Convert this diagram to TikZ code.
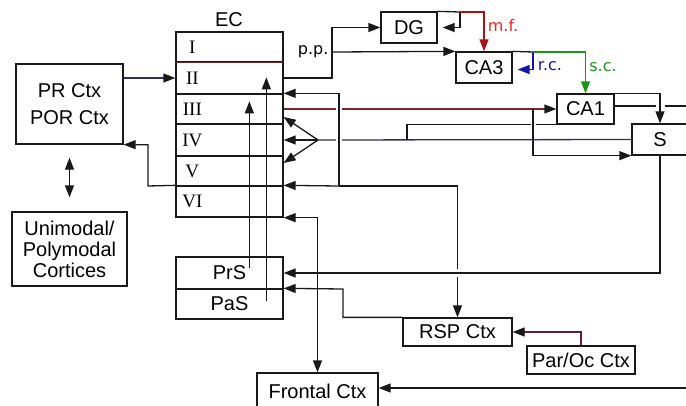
\documentclass[tikz,border=0pt]{standalone}
\usepackage{fontspec}
\setmainfont{Liberation Sans}
\newfontfamily\romfont{Liberation Serif}
\newfontfamily\dvfont{DejaVu Sans}
\usetikzlibrary{arrows.meta,calc}
\definecolor{ink}{RGB}{25,25,25}
\definecolor{navy}{RGB}{45,45,95}
\definecolor{brick}{RGB}{115,40,40}
\definecolor{plum}{RGB}{100,30,60}
\definecolor{mfred}{RGB}{165,20,20}
\definecolor{mftext}{RGB}{230,35,35}
\definecolor{rcblue}{RGB}{20,20,170}
\definecolor{scgreen}{RGB}{25,150,25}
\tikzset{
  box/.style={draw=ink, inner sep=0pt, font=\fontsize{20}{22}\selectfont, align=center},
  lay/.style={draw=ink, minimum width=107pt, inner sep=0pt},
  rom/.style={anchor=center, xshift=17pt, inner sep=0pt, font=\romfont\fontsize{19}{19}\selectfont},
  tipk/.tip={Triangle[length=12pt,width=9pt]},
  arr/.style={draw=ink, -{tipk[color=ink]}},
  darr/.style={draw=ink, {tipk[color=ink]}-{tipk[color=ink]}},
  plain/.style={draw=ink},
  halo/.style={draw=white},
  small/.style={font=\dvfont\fontsize{16}{16}\selectfont, inner sep=1pt},
}
\begin{document}
\begin{tikzpicture}[x=1pt,y=-1pt,line width=1.3pt]
\useasboundingbox (0,0) rectangle (686,405);
\clip (0,0) rectangle (686,405);

% boxes
\node[box, minimum width=107pt, minimum height=80pt] (PR) at (69.5,104) {PR Ctx\\[5pt]POR Ctx};
\node[box, minimum width=115pt, minimum height=74pt, font=\fontsize{20}{21}\selectfont] (Uni) at (69.5,249) {Unimodal/\\Polymodal\\Cortices};

\node[lay, minimum height=30pt, label={[rom]west:I}] (L1) at (229.5,47) {};
\node[lay, minimum height=32pt, label={[rom]west:II}] (L2) at (229.5,78) {};
\node[lay, minimum height=30pt, label={[rom]west:III}] (L3) at (229.5,109) {};
\node[lay, minimum height=32pt, label={[rom]west:IV}] (L4) at (229.5,140) {};
\node[lay, minimum height=30pt, label={[rom]west:V}] (L5) at (229.5,171) {};
\node[lay, minimum height=31pt, label={[rom]west:VI}] (L6) at (229.5,201.5) {};
\draw[brick] (L1.south west) -- (L1.south east);
\node[font=\fontsize{20}{22}\selectfont, inner sep=0pt] (ECt) at (229,19.5) {EC};

\node[box, minimum width=107pt, minimum height=32pt] (PrS) at (229.5,273) {PrS};
\node[box, minimum width=107pt, minimum height=30pt] (PaS) at (229.5,304) {PaS};

\node[box, minimum width=56pt, minimum height=31pt] (DG) at (409,27.5) {DG};
\node[box, minimum width=56pt, minimum height=31pt] (CA3) at (484,67.5) {CA3};
\node[box, minimum width=57pt, minimum height=30pt] (CA1) at (585.5,109) {CA1};
\node[box, minimum width=56pt, minimum height=31pt] (S) at (660,139.5) {S};
\node[box, minimum width=109pt, minimum height=28pt] (RSP) at (457.5,332) {RSP Ctx};
\node[box, minimum width=108pt, minimum height=28pt] (ParOc) at (581,360) {Par/Oc Ctx};
\node[box, minimum width=121pt, minimum height=37pt] (Frontal) at (317.5,391.5) {Frontal Ctx};

% coordinates
\coordinate (pp) at (332,52);
\coordinate (dgo) at (460,12);
\coordinate (rc) at (533,52);
\coordinate (b1) at (533,109);
\coordinate (fan) at (318,140);
\coordinate (b2) at (407,140);
\coordinate (j0) at (148,186);
\coordinate (j1) at (339,186);
\coordinate (j2) at (457.5,186);
\coordinate (k) at (343,289);
\coordinate (ro) at (690,106);
\coordinate (rf) at (690,388);

% PR <-> EC, Unimodal
\draw[arr, draw=navy] (PR.east |- L2.west) -- (L2.west);
\draw[darr] ([yshift=-13pt]PR.south) -- ([yshift=14pt]Uni.north);

% perforant path
\draw[arr] (L2.east) -- (L2.east -| pp) -- (pp |- DG.west) -- (DG.west);
\draw[arr] (pp) -- (CA3.north west);
\node[small, anchor=east, inner sep=3pt] (pplbl) at (pp) {p.p.};

% DG
\draw[plain] (DG.north east) -- (dgo);
\draw[arr] (dgo) |- ([xshift=5pt]DG.east);
\draw[draw=mfred, -{tipk[color=mfred]}] (dgo) -| (CA3.north);
\node[small, text=mftext] (mf) at (503,25) {m.f.};

% CA3
\draw[plain] (CA3.north east) -- (rc);
\draw[draw=rcblue, -{tipk[color=rcblue]}] (rc) |- ([xshift=5pt,yshift=-2pt]CA3.east);
\draw[draw=scgreen, -{tipk[color=scgreen]}] (rc) -| (CA1.north);
\node[small, text=rcblue] (rct) at (550,66.5) {r.c.};
\node[small, text=scgreen] (sct) at (603,67) {s.c.};

% EC III -> CA1, S
\draw[arr, draw=brick] (L3.east) -- (CA1.west);
% CA1/S -> EC deep layers
\draw[draw=navy] (S.west) -- (fan);
\draw[plain] (b2) |- (CA1.south west);
\draw[halo, line width=5pt] (533,119) -- (533,129);
\draw[arr] (b1) |- (S.south west);
\draw[arr] (fan) -- ([yshift=-8pt]L3.east);
\draw[arr] (fan) -- (L4.east);
\draw[arr] (fan) -- ([yshift=8pt]L5.east);

% CA1 -> S and beyond
\draw[plain] ([yshift=3pt]CA1.east) -- (ro);
\draw[halo, line width=9pt] (660,99) -- (660,113);
\draw[arr] (CA1.north east) -| (S.north);

% RSP / PR / EC loop
\draw[halo, line width=6pt] (339,101) -- (339,181);
\draw[arr] (j1) |- (L3.north east);
\draw[plain] (j1) -- (j2);
\draw[arr] (j2) -- (RSP.north);
\draw[arr] (j1) -- (L6.north east);
\draw[arr] (L6.north west) -- (j0) |- (PR.south east);

% S -> PrS
\draw[halo, line width=8pt] (451,272.5) -- (464,272.5);
\draw[arr] (S.south) |- (PrS.east);

% RSP -> PaS
\draw[arr] (RSP.north west) -| (k) -- (PaS.north east);
% Par/Oc -> RSP
\draw[arr, draw=plum] (ParOc.north) |- (RSP.east);

% Frontal
\draw[darr] (L6.south east) -- (Frontal.north |- L6.south east) -- (Frontal.north);
\draw[arr] (rf) -- (Frontal.east |- rf);

% PrS, PaS -> EC
\draw[arr] ($(PrS.north west)+(74,12)$) -- ($(L3.north west)+(74,8)$);
\draw[arr] ($(PaS.north west)+(91,13)$) -- ($(L2.north west)+(91,16)$);
\end{tikzpicture}
\end{document}
